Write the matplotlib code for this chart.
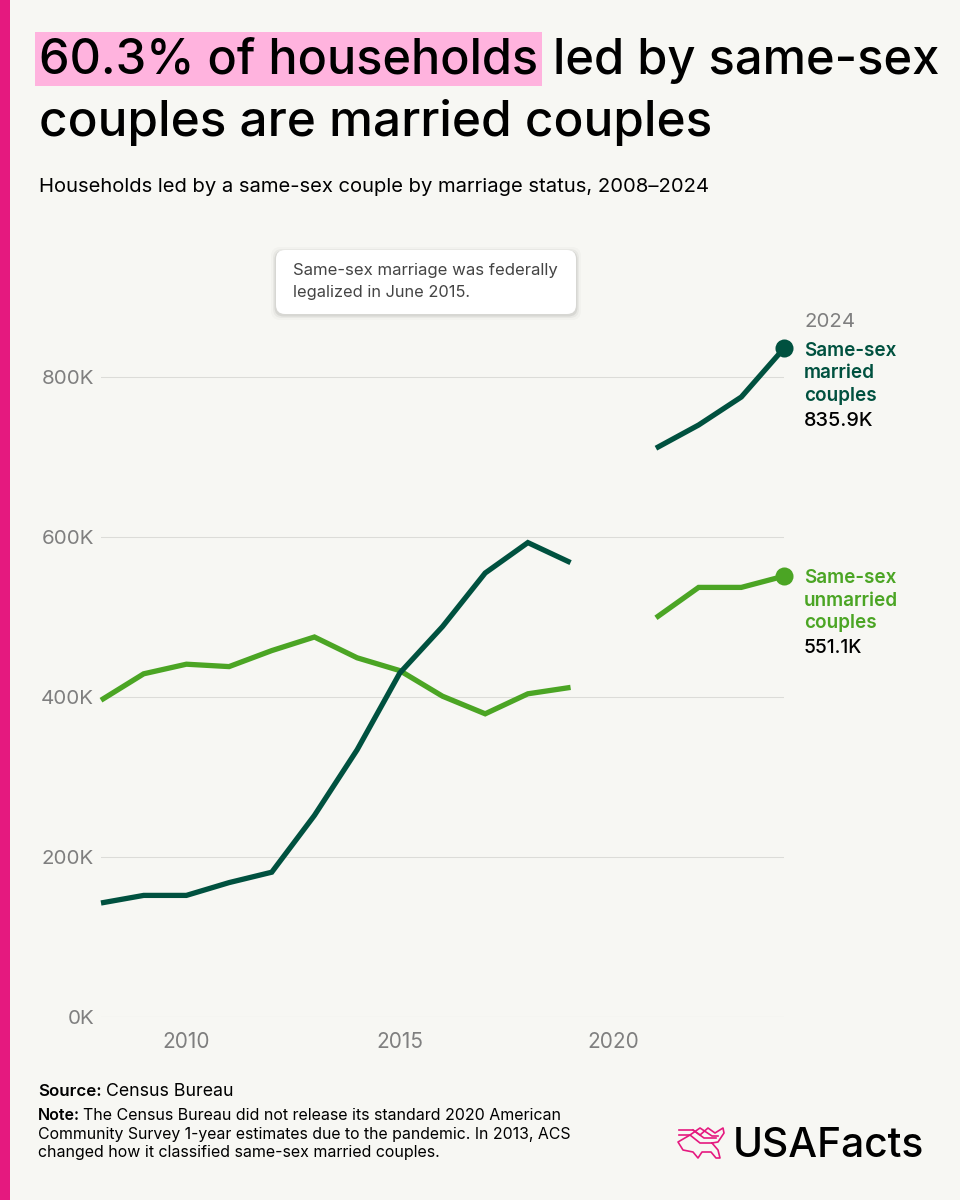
import numpy as np
import matplotlib
matplotlib.use('Agg')
import matplotlib.pyplot as plt
from matplotlib.patches import Rectangle, FancyBboxPatch

plt.rcParams['font.family'] = ['Inter', 'DejaVu Sans']

# Data, thousands of households (no 2020 release)
years_a = [2008, 2009, 2010, 2011, 2012, 2013, 2014, 2015, 2016, 2017, 2018, 2019]
years_b = [2021, 2022, 2023, 2024]
married_a = [142.5, 152, 152, 168, 181, 252, 334, 430, 488, 555, 593, 568]
married_b = [711, 740, 775, 835.9]
unmarried_a = [396, 429, 441, 438, 458, 475, 449, 433, 401, 379, 404, 412]
unmarried_b = [499, 537, 537, 551.1]
y_ticks = [0, 200, 400, 600, 800]
x_ticks = [2010, 2015, 2020]

BG = '#F7F7F3'
DARK = '#00513F'
GREEN = '#4BA524'
PINK = '#E5197F'
GREY = '#7F7F7F'

W, H = 960, 1200
fig = plt.figure(figsize=(9.6, 12), dpi=100, facecolor=BG)

# Overlay in pixel coordinates for the page furniture
page = fig.add_axes([0, 0, 1, 1], zorder=0)
page.set_xlim(0, W)
page.set_ylim(H, 0)
page.axis('off')

page.add_patch(Rectangle((0, 0), 10, H, color=PINK, lw=0))
page.add_patch(Rectangle((35, 32), 507, 54, color='#FFB3DE', lw=0))

page.text(39, 61, '60.3% of households', fontsize=35, va='center', color='black', fontweight='medium')
page.text(553, 61, 'led by same-sex', fontsize=35.2, va='center', color='black', fontweight='medium')
page.text(39, 122, 'couples are married couples', fontsize=35.6, va='center', color='black', fontweight='medium')
page.text(39, 187, 'Households led by a same-sex couple by marriage status, 2008–2024',
          fontsize=14.55, va='center', color='black')

# Annotation box with a soft shadow
for grow, alpha in [(5, 0.02), (3, 0.04), (1.5, 0.07)]:
    page.add_patch(FancyBboxPatch((276 - grow, 251 - grow + 1), 300 + 2 * grow, 63 + 2 * grow,
                                  boxstyle='round,pad=0,rounding_size=9',
                                  fc='black', ec='none', alpha=alpha))
page.add_patch(FancyBboxPatch((276, 250), 300, 64, boxstyle='round,pad=0,rounding_size=9',
                              fc='white', ec='none'))
page.text(293, 271, 'Same-sex marriage was federally', fontsize=12.05, va='center', color='#444444')
page.text(293, 292, 'legalized in June 2015.', fontsize=11.8, va='center', color='#444444')

# Chart axes: 2008-2024 spans px 101-784, 0-800K spans px 1017-377
ax = fig.add_axes([101 / W, 1 - 1017 / H, (784 - 101) / W, (1017 - 217) / H], zorder=1)
ax.patch.set_alpha(0)
ax.set_xlim(2008, 2024)
ax.set_ylim(0, 1000)
for side in ax.spines.values():
    side.set_visible(False)
ax.set_yticks(y_ticks)
ax.set_yticklabels([f'{v}K' for v in y_ticks], fontsize=14.8, color=GREY)
ax.set_xticks(x_ticks)
ax.set_xticklabels([str(v) for v in x_ticks], fontsize=15, color=GREY)
ax.tick_params(length=0)
ax.tick_params(axis='y', pad=5)
ax.tick_params(axis='x', pad=11)
for v in y_ticks:
    ax.axhline(v, color='#B5B5B5' if v == 0 else '#DCDCD8', lw=0.75, zorder=1)

for xs, ys, col in [(years_a, unmarried_a, GREEN), (years_b, unmarried_b, GREEN),
                    (years_a, married_a, DARK), (years_b, married_b, DARK)]:
    ax.plot(xs, ys, color=col, lw=3.8, solid_capstyle='butt', solid_joinstyle='miter',
            clip_on=False, zorder=3)
ax.plot(years_b[-1], married_b[-1], 'o', color=DARK, ms=13, mew=0, clip_on=False, zorder=4)
ax.plot(years_b[-1], unmarried_b[-1], 'o', color=GREEN, ms=13, mew=0, clip_on=False, zorder=4)

# End labels
page.text(804, 322, '2024', fontsize=14.7, va='center', color=GREY)
for i, line in enumerate(['Same-sex', 'married', 'couples']):
    page.text(804, 351 + i * 22.5, line, fontsize=13.6, va='center', color=DARK, fontweight='semibold')
page.text(804, 421, '835.9K', fontsize=14.3, va='center', color='black', fontweight='medium')
for i, line in enumerate(['Same-sex', 'unmarried', 'couples']):
    page.text(804, 578 + i * 22.5, line, fontsize=13.6, va='center', color=GREEN, fontweight='semibold')
page.text(804, 648, '551.1K', fontsize=13.9, va='center', color='black', fontweight='medium')

# Footer
page.text(38, 1091, 'Source:', fontsize=12.2, va='center', fontweight='semibold', color='black')
page.text(106, 1091, 'Census Bureau', fontsize=12.8, va='center', color='black')
page.text(38, 1115, 'Note:', fontsize=11.5, va='center', fontweight='semibold', color='black')
page.text(83, 1115, 'The Census Bureau did not release its standard 2020 American',
          fontsize=11.5, va='center', color='black')
page.text(38, 1134, 'Community Survey 1-year estimates due to the pandemic. In 2013, ACS',
          fontsize=11.4, va='center', color='black')
page.text(38, 1153, 'changed how it classified same-sex married couples.',
          fontsize=11.5, va='center', color='black')

# Logo: text plus a rough outline of the map
page.text(733, 1146, 'USAFacts', fontsize=29.3, va='center', color='black', fontweight='medium')
map_outline_x = [679, 693, 700, 708, 715, 723, 724, 718, 712, 718, 720, 716, 711, 702, 698, 693, 683, 678, 690, 700, 712]
map_outline_y = [1130, 1130, 1135, 1128, 1133, 1128, 1133, 1142, 1143, 1150, 1158, 1158, 1152, 1152, 1158, 1152, 1150, 1142, 1135, 1143, 1143]
map_strand_x = [679, 690, 700, 712, 718]
map_strand_y = [1135, 1135, 1128, 1136, 1136]
map_strand2_x = [693, 704, 716]
map_strand2_y = [1130, 1138, 1138]
page.plot(map_outline_x, map_outline_y, color=PINK, lw=1.2, solid_joinstyle='round')
page.plot(map_strand_x, map_strand_y, color=PINK, lw=1.2, solid_joinstyle='round')
page.plot(map_strand2_x, map_strand2_y, color=PINK, lw=1.2, solid_joinstyle='round')

fig.savefig('out.png', dpi=100, facecolor=BG)
